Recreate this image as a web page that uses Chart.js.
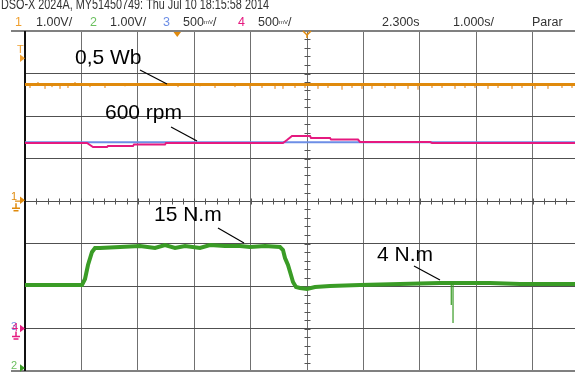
<!DOCTYPE html>
<html>
<head>
<meta charset="utf-8">
<script src="https://cdn.jsdelivr.net/npm/chart.js@4"></script>
<style>
  html, body { margin: 0; padding: 0; background: #fff; overflow: hidden; }
  #wrap { position: absolute; left: 0; top: 0; width: 600px; height: 382px; }
</style>
</head>
<body>
<div id="wrap"><canvas id="scope" width="600" height="382"></canvas></div>
<script>
// time axis (s): 1 s/div, delay 2.300 s -> screen spans -2.7 .. 7.3 s
const gridTimes = [-2.7, -1.7, -0.7, 0.3, 1.3, 2.3, 3.3, 4.3, 5.3, 6.3, 7.3];
const gridDivs = [-4, -3, -2, -1, 0, 1, 2, 3, 4];

// channel 1 (flux), screen divisions
const fluxTime = [-2.7, 7.3];
const fluxDiv = [2.74, 2.74];
const fluxSpikeTime = [-2.611, -2.47, -2.345, -2.221, -2.079, -1.938, -1.813, -1.548, -1.282, -0.927,
  0.013, 0.403, 0.669, 1.023, 1.289, 1.502, 1.733, 1.874, 2.087, 2.265, 2.495, 2.672, 2.921, 3.098,
  3.275, 3.452, 3.683, 3.86, 4.091, 4.268, 4.516, 4.694, 4.924, 5.101, 5.279, 5.509, 5.687, 5.935,
  6.112, 6.343, 6.573, 6.821, 6.999];
const fluxSpikeDiv = [2.66, 2.8, 2.64, 2.68, 2.64, 2.66, 2.8, 2.68, 2.66, 2.7,
  2.68, 2.7, 2.66, 2.68, 2.64, 2.66, 2.64, 2.64, 2.66, 2.66, 2.64, 2.66, 2.62, 2.66,
  2.64, 2.64, 2.66, 2.64, 2.64, 2.62, 2.66, 2.66, 2.64, 2.66, 2.66, 2.64, 2.66, 2.64,
  2.66, 2.64, 2.64, 2.66, 2.66];

// channel 3 (speed reference), screen divisions
const refTime = [-2.7, 7.3];
const refDiv = [1.38, 1.38];

// channel 4 (speed), screen divisions
const speedTime = [-2.7, -1.601, -1.494, -1.246, -1.228, -0.785, -0.767, -0.218, -0.2, 1.874, 1.945, 2.034,
  2.353, 2.371, 2.708, 2.726, 3.204, 3.24, 4.481, 4.516, 7.3];
const speedDiv = [1.365, 1.365, 1.271, 1.271, 1.294, 1.294, 1.329, 1.329, 1.365, 1.365, 1.435, 1.529,
  1.529, 1.482, 1.482, 1.447, 1.447, 1.39, 1.39, 1.365, 1.365];

// channel 2 (torque), screen divisions
const torqueTime = [-2.7, -1.69, -1.636, -1.583, -1.512, -1.459, -1.37, -1.016, -0.661, -0.395, -0.218,
  -0.04, 0.137, 0.403, 0.58, 0.846, 1.112, 1.289, 1.555, 1.821, 1.874, 1.91, 1.963, 2.016, 2.052, 2.105,
  2.176, 2.3, 2.442, 2.708, 3.24, 3.949, 4.658, 5.013, 5.545, 6.077, 6.786, 7.3];
const torqueDiv = [-1.976, -1.976, -1.835, -1.506, -1.2, -1.106, -1.106, -1.082, -1.059, -1.106, -1.035,
  -1.106, -1.059, -1.106, -1.035, -1.059, -1.059, -1.082, -1.059, -1.082, -1.153, -1.341, -1.506, -1.741,
  -1.906, -2.024, -2.047, -2.071, -2.024, -2.0, -1.976, -1.953, -1.929, -1.929, -1.929, -1.953, -1.953, -1.953];
const torqueSpikeTime = [4.858, 4.889];
const torqueSpikeDiv = [-2.447, -2.871];

// annotations: label, text left (s), text middle (div), pointer start/end
const noteText = ["0,5 Wb", "600 rpm", "15 N.m", "4 N.m"];
const noteTime = [-1.813, -1.282, -0.413, 3.541];
const noteDiv = [3.365, 2.071, -0.329, -1.271];
const notePtr = [
  [-0.661, 3.082, -0.182, 2.753],
  [-0.111, 1.741, 0.35, 1.412],
  [0.722, -0.635, 1.183, -0.988],
  [4.197, -1.529, 4.658, -1.859]
];

// ground / trigger markers (div)
const ch1Ground = 0.02, ch2Ground = -3.93, ch34Ground = -3.0, trigLevel = 3.36;
const trigTime = 0, delayTime = 2.3;

const ORANGE = "#e08a0c", GREEN = "#3a9c26", BLUE = "#6d8ee6", PINK = "#e5197f";

function pts(xs, ys) { return xs.map((x, i) => ({ x: x, y: ys[i] })); }
function spikes(xs, ys, base) {
  const out = [];
  xs.forEach((x, i) => { out.push({ x: x, y: base }, { x: x, y: ys[i] }, { x: x, y: base }); });
  return out;
}

function tri(ctx, x, y, dir, size, color) {
  ctx.fillStyle = color;
  ctx.beginPath();
  if (dir === "right") { ctx.moveTo(x, y); ctx.lineTo(x - size, y - size * 0.75); ctx.lineTo(x - size, y + size * 0.75); }
  else { ctx.moveTo(x, y); ctx.lineTo(x - size * 0.75, y - size); ctx.lineTo(x + size * 0.75, y - size); }
  ctx.closePath();
  ctx.fill();
}

function groundSym(ctx, x, y, color) {
  ctx.strokeStyle = color;
  ctx.lineWidth = 1.5;
  ctx.beginPath();
  ctx.moveTo(x, y - 5); ctx.lineTo(x, y);
  ctx.moveTo(x - 4, y); ctx.lineTo(x + 4, y);
  ctx.moveTo(x - 2.5, y + 2.5); ctx.lineTo(x + 2.5, y + 2.5);
  ctx.stroke();
}

const scopeDecor = {
  id: "scopeDecor",
  beforeDatasetsDraw(chart) {
    const ctx = chart.ctx, a = chart.chartArea, x = chart.scales.x, y = chart.scales.y;
    ctx.save();
    ctx.strokeStyle = "#555";
    ctx.lineWidth = 1;
    const yc = Math.round(y.getPixelForValue(0)) + 0.5;
    const xc = Math.round(x.getPixelForValue(delayTime)) + 0.5;
    ctx.beginPath();
    for (let i = 0; i <= 50; i++) {
      const px = Math.round(x.getPixelForValue(-2.7 + i * 0.2)) + 0.5;
      ctx.moveTo(px, yc - 3); ctx.lineTo(px, yc + 3);
    }
    for (let i = 0; i <= 40; i++) {
      const py = Math.round(y.getPixelForValue(-4 + i * 0.2)) + 0.5;
      ctx.moveTo(xc - 3, py); ctx.lineTo(xc + 3, py);
    }
    ctx.stroke();
    // frame
    ctx.strokeStyle = "#808080";
    ctx.lineWidth = 2;
    ctx.beginPath();
    ctx.moveTo(11, a.top); ctx.lineTo(chart.width, a.top);
    ctx.moveTo(11, a.bottom); ctx.lineTo(chart.width, a.bottom);
    ctx.stroke();
    ctx.strokeStyle = "#111";
    ctx.beginPath();
    ctx.moveTo(a.left, a.top); ctx.lineTo(a.left, a.bottom);
    ctx.stroke();
    ctx.restore();
  },
  afterDraw(chart) {
    const ctx = chart.ctx, a = chart.chartArea, x = chart.scales.x, y = chart.scales.y;
    ctx.save();
    // annotations
    ctx.fillStyle = "#000";
    ctx.strokeStyle = "#000";
    ctx.lineWidth = 1.2;
    ctx.font = "21px 'Liberation Sans', Arial, sans-serif";
    ctx.textBaseline = "middle";
    noteText.forEach((t, i) => {
      ctx.fillText(t, x.getPixelForValue(noteTime[i]), y.getPixelForValue(noteDiv[i]));
      const p = notePtr[i];
      ctx.beginPath();
      ctx.moveTo(x.getPixelForValue(p[0]), y.getPixelForValue(p[1]));
      ctx.lineTo(x.getPixelForValue(p[2]), y.getPixelForValue(p[3]));
      ctx.stroke();
    });

    // top markers
    tri(ctx, x.getPixelForValue(trigTime), a.top + 6, "down", 5, ORANGE);
    const xd = x.getPixelForValue(delayTime);
    ctx.strokeStyle = ORANGE;
    ctx.lineWidth = 1.5;
    ctx.beginPath();
    ctx.moveTo(xd - 4, a.top); ctx.lineTo(xd, a.top + 4); ctx.lineTo(xd + 4, a.top);
    ctx.moveTo(xd, a.top + 4); ctx.lineTo(xd, a.top + 7);
    ctx.stroke();

    // left markers
    ctx.font = "11px 'Liberation Sans', Arial, sans-serif";
    ctx.textBaseline = "middle";
    const yt = y.getPixelForValue(trigLevel);
    ctx.fillStyle = "#f0a030";
    ctx.fillText("T", 17, yt - 8);
    tri(ctx, a.left, yt, "right", 5, "#f0a030");

    const y1 = y.getPixelForValue(ch1Ground);
    ctx.fillStyle = ORANGE;
    ctx.fillText("1", 11, y1 - 3);
    tri(ctx, a.left, y1, "right", 5, ORANGE);
    ctx.strokeStyle = ORANGE; ctx.lineWidth = 1.2;
    ctx.beginPath(); ctx.moveTo(15, y1 + 1); ctx.lineTo(21, y1 + 1); ctx.stroke();
    groundSym(ctx, 16, y1 + 8, ORANGE);

    const y34 = y.getPixelForValue(ch34Ground);
    ctx.fillStyle = BLUE;
    ctx.fillText("3", 11, y34 - 2);
    ctx.fillStyle = PINK;
    ctx.fillText("4", 12, y34 - 1);
    tri(ctx, a.left, y34, "right", 5, PINK);
    groundSym(ctx, 16, y34 + 8, PINK);

    const y2 = y.getPixelForValue(ch2Ground);
    ctx.fillStyle = "#6cc060";
    ctx.fillText("2", 11, y2 - 2);
    tri(ctx, a.left, y2, "right", 5, GREEN);

    // header (top row is cut by the screen edge)
    ctx.textBaseline = "alphabetic";
    ctx.fillStyle = "#333";
    ctx.font = "15px Arial, 'Liberation Sans', sans-serif";
    const hdr = "DSO-X 2024A, MY51450749: Thu Jul 10 18:15:58 2014";
    const w = ctx.measureText(hdr).width;
    ctx.save();
    ctx.translate(1, 9);
    ctx.scale(268 / w, 1);
    ctx.fillText(hdr, 0, 0);
    ctx.restore();

    ctx.font = "12.5px Arial, 'Liberation Sans', sans-serif";
    const row = 26;
    ctx.fillStyle = "#f0a030"; ctx.fillText("1", 15, row);
    ctx.fillStyle = "#333"; ctx.fillText("1.00V/", 36, row);
    ctx.fillStyle = "#6cc060"; ctx.fillText("2", 90, row);
    ctx.fillStyle = "#333"; ctx.fillText("1.00V/", 110, row);
    ctx.fillStyle = BLUE; ctx.fillText("3", 163, row);
    ctx.fillStyle = PINK; ctx.fillText("4", 238, row);
    ctx.fillStyle = "#333";
    [183, 258].forEach(x0 => {
      ctx.font = "12.5px Arial, 'Liberation Sans', sans-serif";
      ctx.fillText("500", x0, row);
      ctx.font = "6px Arial, 'Liberation Sans', sans-serif";
      ctx.fillText("mV", x0 + 21, row - 2);
      ctx.font = "12.5px Arial, 'Liberation Sans', sans-serif";
      ctx.fillText("/", x0 + 30, row);
    });
    ctx.fillText("2.300s", 382, row);
    ctx.fillText("1.000s/", 453, row);
    ctx.fillText("Parar", 532, row);
    ctx.restore();
  }
};

const lineBase = { pointRadius: 0, tension: 0, fill: false };

// lower "order" is drawn on top
new Chart(document.getElementById("scope"), {
  type: "line",
  data: {
    datasets: [
      Object.assign({ data: spikes(torqueSpikeTime, torqueSpikeDiv, -1.929), borderColor: GREEN, borderWidth: 1.2, order: 0 }, lineBase),
      Object.assign({ data: pts(torqueTime, torqueDiv), borderColor: GREEN, borderWidth: 4, order: 1 }, lineBase),
      Object.assign({ data: pts(speedTime, speedDiv), borderColor: PINK, borderWidth: 2, order: 3 }, lineBase),
      Object.assign({ data: pts(refTime, refDiv), borderColor: BLUE, borderWidth: 2, order: 4 }, lineBase),
      Object.assign({ data: pts(fluxTime, fluxDiv), borderColor: ORANGE, borderWidth: 3, order: 5 }, lineBase),
      Object.assign({ data: spikes(fluxSpikeTime, fluxSpikeDiv, 2.74), borderColor: "#eba85a", borderWidth: 1, order: 6 }, lineBase)
    ]
  },
  options: {
    responsive: false,
    animation: false,
    devicePixelRatio: 1,
    parsing: false,
    layout: { padding: { left: 25, top: 31, right: 11, bottom: 11 } },
    plugins: { legend: { display: false }, tooltip: { enabled: false } },
    scales: {
      x: {
        type: "linear", min: -2.7, max: 7.3,
        afterBuildTicks: s => { s.ticks = gridTimes.map(v => ({ value: v })); },
        ticks: { display: false },
        grid: { color: "#707070", lineWidth: 1, drawTicks: false },
        border: { display: false }
      },
      y: {
        type: "linear", min: -4, max: 4,
        afterBuildTicks: s => { s.ticks = gridDivs.map(v => ({ value: v })); },
        ticks: { display: false },
        grid: { color: "#505050", lineWidth: 1, drawTicks: false },
        border: { display: false }
      }
    }
  },
  plugins: [scopeDecor]
});
</script>
</body>
</html>
